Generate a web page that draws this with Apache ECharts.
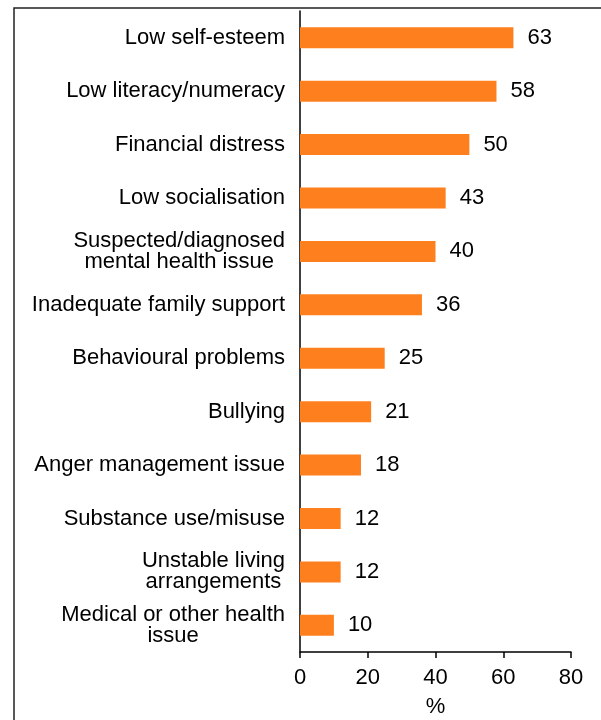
<!DOCTYPE html>
<html>
<head>
<meta charset="utf-8">
<script src="https://cdn.jsdelivr.net/npm/echarts@6/dist/echarts.min.js"></script>
<style>
html,body{margin:0;padding:0;background:#fff;}
#chart{width:601px;height:720px;}
</style>
</head>
<body>
<div id="chart"></div>
<script>
const categories = [
  "Low self-esteem",
  "Low literacy/numeracy",
  "Financial distress",
  "Low socialisation",
  "Suspected/diagnosed\nmental health issue",
  "Inadequate family support",
  "Behavioural problems",
  "Bullying",
  "Anger management issue",
  "Substance use/misuse",
  "Unstable living\narrangements",
  "Medical or other health\nissue"
];
const values = [63, 58, 50, 43, 40, 36, 25, 21, 18, 12, 12, 10];
const xTicks = [0, 20, 40, 60, 80];

const chart = echarts.init(document.getElementById('chart'), null, {renderer: 'canvas'});
const font = 'Liberation Sans, Arial, sans-serif';
chart.setOption({
  animation: false,
  backgroundColor: '#fff',
  graphic: [{
    type: 'rect',
    shape: {x: 14, y: 8, width: 700, height: 800},
    style: {fill: 'none', stroke: '#222', lineWidth: 1.5},
    silent: true
  }],
  grid: {left: 300, right: 30, top: 11, bottom: 68, containLabel: false, outerBoundsMode: 'none'},
  xAxis: {
    type: 'value',
    min: xTicks[0],
    max: xTicks[xTicks.length - 1],
    interval: xTicks[1] - xTicks[0],
    name: '%',
    nameLocation: 'middle',
    nameGap: 44,
    nameTextStyle: {fontFamily: font, fontSize: 22, color: '#000'},
    axisLine: {show: true, lineStyle: {color: '#000', width: 1.5}},
    axisTick: {show: true, length: 6, lineStyle: {color: '#000', width: 1.5}},
    axisLabel: {fontFamily: font, fontSize: 22, color: '#000', margin: 15},
    splitLine: {show: false}
  },
  yAxis: {
    type: 'category',
    data: categories,
    inverse: true,
    axisLine: {show: true, lineStyle: {color: '#000', width: 1.5}},
    axisTick: {show: false},
    axisLabel: {
      fontFamily: font, fontSize: 22, color: '#000', margin: 15, lineHeight: 21,
      formatter: function (v) {
        return v.split('\n').map(function (s) { return '{c|' + s + '}'; }).join('\n');
      },
      rich: {c: {align: 'center', fontFamily: font, fontSize: 22, color: '#000', lineHeight: 21}}
    }
  },
  series: [{
    type: 'bar',
    data: values,
    barWidth: 21,
    itemStyle: {color: '#FE7F1E'},
    label: {
      show: true, position: 'right', distance: 14,
      fontFamily: font, fontSize: 22, color: '#000'
    }
  }]
});
</script>
</body>
</html>
